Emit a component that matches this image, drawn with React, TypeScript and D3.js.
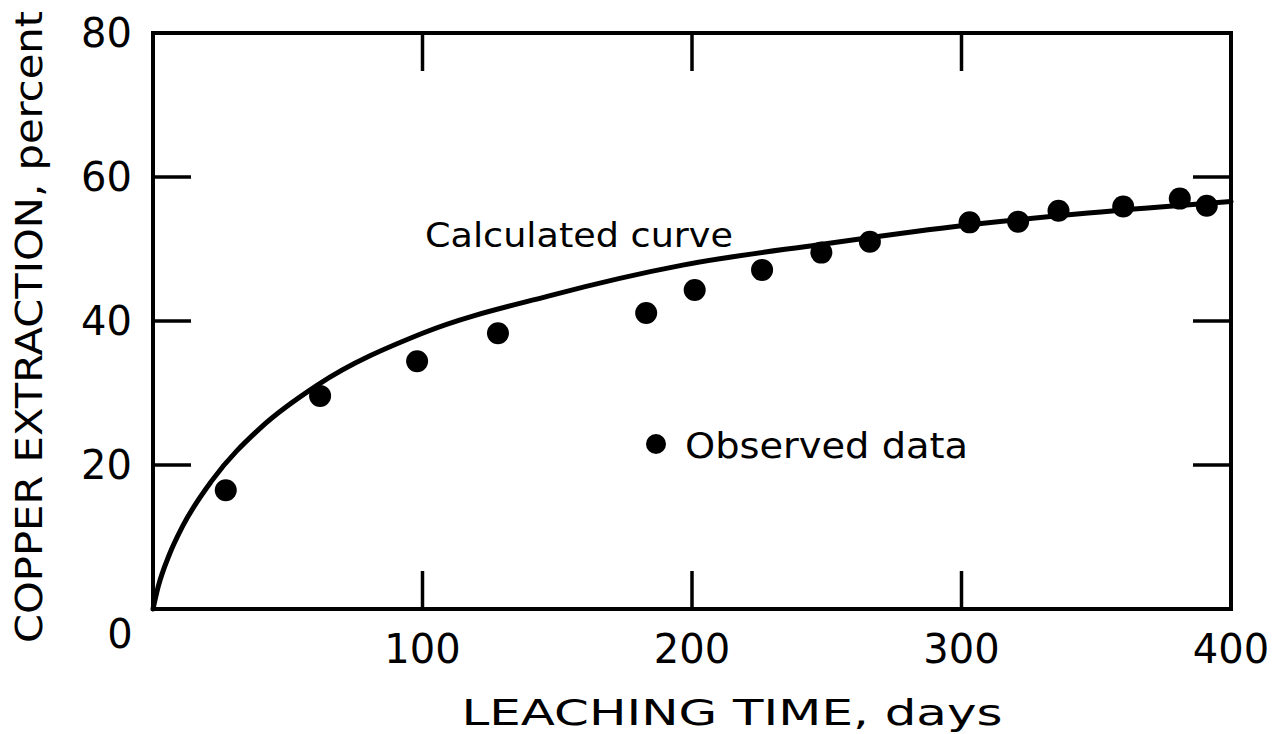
import React from "react";
import * as d3 from "d3";

// Observed data (leaching time in days, copper extraction in percent)
const obsDays = [27, 62, 98, 128, 183, 201, 226, 248, 266, 303, 321, 336, 360, 381, 391];
const obsPct = [16.5, 29.6, 34.4, 38.3, 41.1, 44.3, 47.1, 49.5, 51.0, 53.7, 53.8, 55.3, 55.9, 57.0, 56.0];

// Calculated curve
const curveDays = [0, 2, 6, 11, 22, 40, 61, 100, 147, 197, 247, 297, 347, 400];
const curvePct = [0, 3.2, 7.5, 11.5, 17.9, 25.2, 31.1, 38.3, 43.5, 47.8, 50.6, 53.1, 55.0, 56.6];

const xTicks = [100, 200, 300, 400];
const yTicks = [20, 40, 60, 80];
const innerXTicks = [100, 200, 300];
const innerYTicks = [20, 40, 60];

const FONT = "DejaVu Sans, sans-serif";

export default function App() {
  const W = 1274, H = 734;
  const x = d3.scaleLinear().domain([0, 400]).range([153, 1231]);
  const y = d3.scaleLinear().domain([0, 80]).range([609, 33]);
  const tickLen = 38;

  const curveData = curveDays.map((d, i) => [d, curvePct[i]] as [number, number]);
  const line = d3
    .line<[number, number]>()
    .x((d) => x(d[0]))
    .y((d) => y(d[1]))
    .curve(d3.curveMonotoneX);

  const x0 = x(0), x1 = x(400), y0 = y(0), y1 = y(80);

  return (
    <svg width={W} height={H} style={{ display: "block", position: "absolute", left: 0, top: 0 }}>
      <rect x={0} y={0} width={W} height={H} fill="#fff" />
      {/* frame */}
      <rect x={x0} y={y1} width={x1 - x0} height={y0 - y1} fill="none" stroke="#000" strokeWidth={4} />
      {/* ticks */}
      {innerXTicks.map((t) => (
        <g key={"xt" + t}>
          <line x1={x(t)} x2={x(t)} y1={y0} y2={y0 - tickLen} stroke="#000" strokeWidth={3.5} />
          <line x1={x(t)} x2={x(t)} y1={y1} y2={y1 + tickLen} stroke="#000" strokeWidth={3.5} />
        </g>
      ))}
      {innerYTicks.map((t) => (
        <g key={"yt" + t}>
          <line x1={x0} x2={x0 + tickLen} y1={y(t)} y2={y(t)} stroke="#000" strokeWidth={3.5} />
          <line x1={x1} x2={x1 - tickLen} y1={y(t)} y2={y(t)} stroke="#000" strokeWidth={3.5} />
        </g>
      ))}
      {/* tick labels */}
      {xTicks.map((t) => (
        <text key={"xl" + t} x={x(t)} y={663} textAnchor="middle" fontFamily={FONT} fontSize={40} fill="#000">
          {t}
        </text>
      ))}
      {yTicks.map((t) => (
        <text key={"yl" + t} x={132} y={y(t)} dy="0.36em" textAnchor="end" fontFamily={FONT} fontSize={40} fill="#000">
          {t}
        </text>
      ))}
      <text x={120} y={648} textAnchor="middle" fontFamily={FONT} fontSize={40} fill="#000">0</text>
      {/* axis titles */}
      <text
        x={732}
        y={725}
        textAnchor="middle"
        fontFamily={FONT}
        fontSize={36}
        textLength={541}
        lengthAdjust="spacingAndGlyphs"
        fill="#000"
      >
        LEACHING TIME, days
      </text>
      <text
        transform={`translate(42, 327) rotate(-90)`}
        textAnchor="middle"
        fontFamily={FONT}
        fontSize={38}
        textLength={632}
        lengthAdjust="spacingAndGlyphs"
        fill="#000"
      >
        COPPER EXTRACTION, percent
      </text>
      {/* calculated curve */}
      <path d={line(curveData) || ""} fill="none" stroke="#000" strokeWidth={5} strokeLinecap="round" />
      <text x={425} y={247} fontFamily={FONT} fontSize={34} textLength={308} lengthAdjust="spacingAndGlyphs" fill="#000">
        Calculated curve
      </text>
      {/* observed points */}
      {obsDays.map((d, i) => (
        <circle key={"p" + i} cx={x(d)} cy={y(obsPct[i])} r={11} fill="#000" />
      ))}
      {/* legend */}
      <circle cx={656} cy={444} r={10} fill="#000" />
      <text x={685} y={458} fontFamily={FONT} fontSize={36} textLength={283} lengthAdjust="spacingAndGlyphs" fill="#000">
        Observed data
      </text>
    </svg>
  );
}
